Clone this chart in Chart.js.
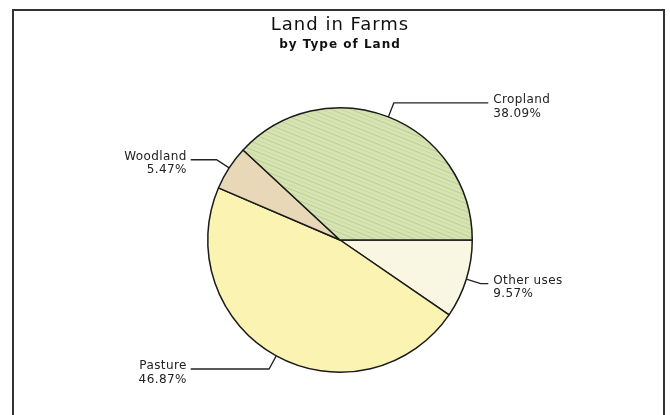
<!DOCTYPE html>
<html>
<head>
<meta charset="utf-8">
<script src="https://cdn.jsdelivr.net/npm/chart.js@4"></script>
<style>
    html, body { margin: 0; padding: 0; background: #fff; }
    #wrap { width: 670px; height: 415px; position: relative; }
</style>
</head>
<body>
<div id="wrap"><canvas id="landChart" width="670" height="415"></canvas></div>
<script>
// data, clockwise from 3 o'clock
const landTypes = ['Other uses', 'Pasture', 'Woodland', 'Cropland'];
const landShares = [9.57, 46.87, 5.47, 38.09];

// streaky fill for cropland
function streakPattern() {
    const tile = document.createElement('canvas');
    tile.width = 20;
    tile.height = 8;
    const c = tile.getContext('2d');
    c.fillStyle = '#d7e4b2';
    c.fillRect(0, 0, 20, 8);
    const lines = [[1, '#b7cd95'], [5, '#c6d8a5']];
    lines.forEach(([k, col]) => {
        c.strokeStyle = col;
        c.lineWidth = 1;
        c.beginPath();
        c.moveTo(0, k); c.lineTo(20, k + 8);
        c.moveTo(0, k - 8); c.lineTo(20, k);
        c.stroke();
    });
    return c.createPattern(tile, 'repeat');
}

const sliceColors = ['#f9f6e1', '#faf3b2', '#e9d8b8', streakPattern()];

// frame round the picture
const framePlugin = {
    id: 'frame',
    beforeDraw(chart) {
        const ctx = chart.ctx;
        ctx.save();
        ctx.strokeStyle = '#333';
        ctx.lineWidth = 2;
        ctx.strokeRect(13, 10, 651, 420);
        ctx.restore();
        ctx.letterSpacing = '1px';
    }
};

// labels with leader lines
const leaderPlugin = {
    id: 'leaders',
    afterDatasetsDraw(chart) {
        const ctx = chart.ctx;
        const meta = chart.getDatasetMeta(0);
        ctx.save();
        ctx.strokeStyle = '#222';
        ctx.fillStyle = '#222';
        ctx.lineWidth = 1.3;
        ctx.font = '12px "DejaVu Sans"';
        ctx.letterSpacing = '0.4px';
        ctx.textBaseline = 'middle';
        meta.data.forEach((arc, i) => {
            const p = arc.getProps(['x', 'y', 'startAngle', 'endAngle', 'outerRadius'], true);
            const mid = (p.startAngle + p.endAngle) / 2;
            const R = p.outerRadius;
            const ex = p.x + Math.cos(mid) * R, ey = p.y + Math.sin(mid) * R;
            const bx = p.x + Math.cos(mid) * (R + 15), by = p.y + Math.sin(mid) * (R + 15);
            const right = Math.cos(mid) > 0;
            const endX = right ? p.x + R + 16 : p.x - R - 17;
            ctx.beginPath();
            ctx.moveTo(ex, ey);
            ctx.lineTo(bx, by);
            ctx.lineTo(endX, by);
            ctx.stroke();
            const tx = right ? endX + 5 : endX - 4;
            ctx.textAlign = right ? 'left' : 'right';
            ctx.fillText(landTypes[i], tx, by - 3);
            ctx.fillText(landShares[i].toFixed(2) + '%', tx, by + 10.5);
        });
        ctx.restore();
    }
};

new Chart(document.getElementById('landChart'), {
    type: 'pie',
    data: {
        labels: landTypes,
        datasets: [{
            data: landShares,
            backgroundColor: sliceColors,
            borderColor: '#1a1a1a',
            borderWidth: 1.5,
            borderAlign: 'center'
        }]
    },
    options: {
        responsive: false,
        animation: false,
        rotation: 90,
        layout: { padding: { left: 207, right: 197, top: 0, bottom: 41 } },
        plugins: {
            legend: { display: false },
            tooltip: { enabled: false },
            title: {
                display: true,
                text: 'Land in Farms',
                color: '#111',
                font: { family: 'DejaVu Sans', size: 18, weight: 'normal' },
                padding: { top: 15, bottom: 0 }
            },
            subtitle: {
                display: true,
                text: 'by Type of Land',
                color: '#111',
                font: { family: 'DejaVu Sans', size: 12, weight: 'bold' },
                padding: { top: 1, bottom: 54 }
            }
        }
    },
    plugins: [framePlugin, leaderPlugin]
});
</script>
</body>
</html>
